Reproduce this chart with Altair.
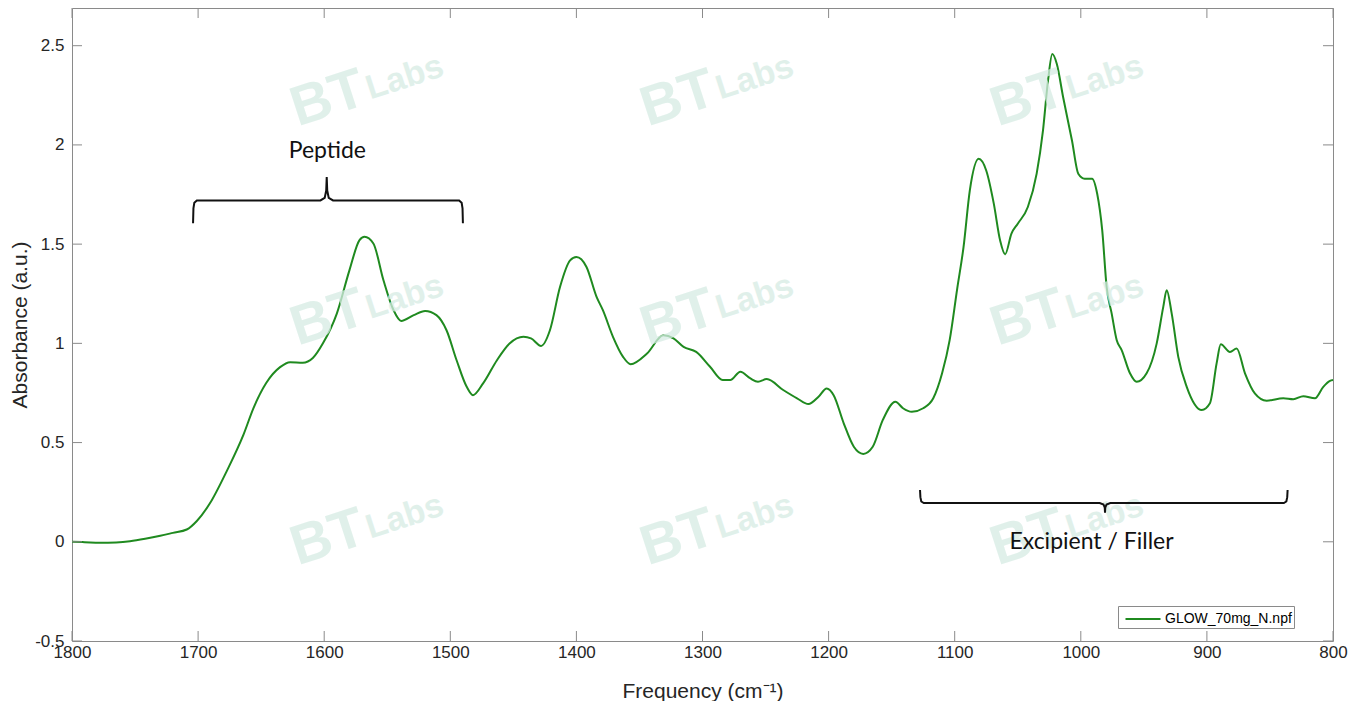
import altair as alt
import pandas as pd

# ---- spectrum ----
freq = [1800, 1790, 1778, 1765, 1754, 1742, 1730, 1720, 1709, 1701, 1691, 1677, 1664, 1656, 1646,
        1635, 1627, 1617, 1609, 1601, 1590, 1580, 1572, 1568, 1561, 1553, 1545, 1539, 1529, 1520,
        1511, 1503, 1495, 1487, 1482, 1474, 1463, 1453, 1442, 1436, 1428, 1421, 1413, 1405, 1400,
        1392, 1384, 1379, 1371, 1363, 1357, 1344, 1331, 1323, 1315, 1305, 1294, 1284, 1278, 1270,
        1262, 1256, 1249, 1236, 1225, 1216, 1208, 1201.5, 1196, 1188, 1180, 1172.5, 1165, 1157,
        1147, 1141, 1134, 1125, 1117, 1110, 1104, 1098, 1093, 1088, 1081, 1075, 1069, 1064, 1060,
        1055, 1050, 1042, 1035, 1030, 1026, 1022.6, 1019, 1014, 1007, 1002, 997, 991, 987, 983,
        979.5, 975.5, 971.5, 967.6, 961, 955.7, 947.8, 939.8, 934.6, 931.9, 927.9, 922.7, 916,
        904, 897.6, 892.3, 889, 881.7, 876.4, 869.8, 862, 852.6, 839.4, 831.5, 823.6, 814.3,
        807.7, 802.4, 800]
absorbance = [0.0, -0.002, -0.005, -0.003, 0.003, 0.015, 0.03, 0.045, 0.062, 0.105, 0.19, 0.36,
              0.54, 0.675, 0.8, 0.88, 0.905, 0.902, 0.926, 1.0, 1.15, 1.368, 1.52, 1.537, 1.503,
              1.318, 1.167, 1.113, 1.142, 1.163, 1.142, 1.066, 0.915, 0.781, 0.739, 0.798, 0.915,
              0.999, 1.033, 1.025, 0.987, 1.066, 1.284, 1.418, 1.435, 1.385, 1.234, 1.167, 1.033,
              0.932, 0.895, 0.949, 1.041, 1.025, 0.982, 0.957, 0.882, 0.815, 0.815, 0.857, 0.823,
              0.806, 0.82, 0.765, 0.723, 0.694, 0.731, 0.773, 0.739, 0.597, 0.479, 0.443, 0.479,
              0.614, 0.706, 0.673, 0.655, 0.673, 0.723, 0.849, 1.016, 1.276, 1.485, 1.771, 1.93,
              1.871, 1.704, 1.519, 1.449, 1.553, 1.603, 1.687, 1.855, 2.072, 2.324, 2.458, 2.408,
              2.24, 2.022, 1.855, 1.83, 1.83, 1.754, 1.569, 1.284, 1.15, 1.016, 0.966, 0.849,
              0.806, 0.849, 1.0, 1.184, 1.268, 1.15, 0.932, 0.781, 0.664, 0.698, 0.899, 0.996,
              0.957, 0.974, 0.849, 0.748, 0.711, 0.723, 0.718, 0.734, 0.723, 0.781, 0.811, 0.815]
series_name = "GLOW_70mg_N.npf"

x_ticks = [1800, 1700, 1600, 1500, 1400, 1300, 1200, 1100, 1000, 900, 800]
y_ticks = [-0.5, 0, 0.5, 1, 1.5, 2, 2.5]
x_domain = [1800, 800]
y_domain = [-0.5, 2.69]

# ---- annotations ----
ann_text = ["Peptide", "Excipient / Filler"]
ann_x = [1597.5, 991.5]
ann_y = [1.97, 0.0]

pep_brace_x = [1704, 1703.7, 1703, 1701, 1603, 1599.6, 1598.4, 1598, 1597.6, 1596.4, 1593, 1493, 1491, 1490.3, 1490]
pep_brace_y = [1.605, 1.68, 1.708, 1.72, 1.72, 1.733, 1.77, 1.838, 1.77, 1.733, 1.72, 1.72, 1.708, 1.68, 1.605]
exc_brace_x = [1127.5, 1127.2, 1126.5, 1124.5, 985, 982, 981, 980.8, 980.6, 979.6, 976.6, 839, 837, 836.3, 836]
exc_brace_y = [0.261, 0.225, 0.203, 0.195, 0.195, 0.188, 0.172, 0.146, 0.172, 0.188, 0.195, 0.195, 0.203, 0.225, 0.261]

# ---- watermark ----
wm_bt_x = [1597, 1319.4, 1041.9]
wm_bt_y = [2.233, 1.127, 0.02]

LINE_GREEN = "#1f8a1f"
AX_COLOR = "#262626"
FRAME = "#8a8a8a"

W, H = 1261, 633

df = pd.DataFrame({"freq": freq, "abs": absorbance, "series": series_name})

xs = alt.Scale(domain=x_domain, nice=False, zero=False)
ys = alt.Scale(domain=y_domain, nice=False, zero=False)

x_axis = alt.Axis(values=x_ticks, title="Frequency (cm⁻¹)", format="d", labelPadding=3, titlePadding=20,
                  labelFlush=False, labelOverlap=False, grid=False, ticks=False, domain=False)
y_axis = alt.Axis(values=y_ticks, title="Absorbance (a.u.)", labelPadding=8, titlePadding=4,
                  labelExpr="datum.value + ''", labelFlush=False, labelOverlap=False,
                  grid=False, ticks=False, domain=False)

xlen = 10 * (x_domain[0] - x_domain[1]) / W
ylen = 10 * (y_domain[1] - y_domain[0]) / H

# main spectrum line (first layer carries the axes)
line = alt.Chart(df).mark_line(strokeWidth=2, interpolate="monotone").encode(
    x=alt.X("freq:Q", scale=xs, axis=x_axis),
    y=alt.Y("abs:Q", scale=ys, axis=y_axis),
    color=alt.Color("series:N", scale=alt.Scale(range=[LINE_GREEN]),
                    legend=alt.Legend(title=None, orient="none", legendX=1046, legendY=598,
                                      symbolType="M-1.75,0H1.75", symbolSize=400, symbolStrokeWidth=2,
                                      symbolOffset=12, labelOffset=11,
                                      labelFontSize=14, labelColor="#000000", labelFont="Liberation Sans",
                                      strokeColor=FRAME, fillColor="white", padding=2,
                                      labelLimit=300)),
)

# watermark layer
wm_rows = []
for bx in wm_bt_x:
    for by in wm_bt_y:
        wm_rows.append({"x": bx, "y": by, "t": "BT", "k": "bt"})
        wm_rows.append({"x": bx - 61, "y": by + 0.105, "t": "Labs", "k": "labs"})
wm = pd.DataFrame(wm_rows)
wm_bt = alt.Chart(wm[wm.k == "bt"]).mark_text(
    font="Liberation Sans", fontWeight="bold", fontSize=56, angle=342,
    color="#d6ece4", opacity=0.75
).encode(x=alt.X("x:Q", scale=xs), y=alt.Y("y:Q", scale=ys), text="t:N")
wm_labs = alt.Chart(wm[wm.k == "labs"]).mark_text(
    font="Liberation Sans", fontWeight="bold", fontSize=34, angle=342,
    color="#d6ece4", opacity=0.75
).encode(x=alt.X("x:Q", scale=xs), y=alt.Y("y:Q", scale=ys), text="t:N")

# inward ticks
tb = pd.DataFrame({"v": x_ticks})
ty = pd.DataFrame({"v": y_ticks})
tick_bottom = alt.Chart(tb).mark_rule(color=FRAME, strokeWidth=1).encode(
    x=alt.X("v:Q", scale=xs), y=alt.datum(y_domain[0]), y2=alt.datum(y_domain[0] + ylen))
tick_top = alt.Chart(tb).mark_rule(color=FRAME, strokeWidth=1).encode(
    x=alt.X("v:Q", scale=xs), y=alt.datum(y_domain[1]), y2=alt.datum(y_domain[1] - ylen))
tick_left = alt.Chart(ty).mark_rule(color=FRAME, strokeWidth=1).encode(
    y=alt.Y("v:Q", scale=ys), x=alt.datum(x_domain[0]), x2=alt.datum(x_domain[0] - xlen))
tick_right = alt.Chart(ty).mark_rule(color=FRAME, strokeWidth=1).encode(
    y=alt.Y("v:Q", scale=ys), x=alt.datum(x_domain[1]), x2=alt.datum(x_domain[1] + xlen))

bdf = pd.DataFrame({
    "x": pep_brace_x + exc_brace_x,
    "y": pep_brace_y + exc_brace_y,
    "g": ["p"] * len(pep_brace_x) + ["e"] * len(exc_brace_x),
    "o": list(range(len(pep_brace_x))) + list(range(len(exc_brace_x))),
})
braces = alt.Chart(bdf).mark_line(color="#111111", strokeWidth=2, interpolate="linear").encode(
    x=alt.X("x:Q", scale=xs), y=alt.Y("y:Q", scale=ys), detail="g:N", order="o:Q")

adf = pd.DataFrame({"t": ann_text, "x": ann_x, "y": ann_y})
ann = alt.Chart(adf).mark_text(font="Lato", fontSize=23, color="#111111").encode(
    x=alt.X("x:Q", scale=xs), y=alt.Y("y:Q", scale=ys), text="t:N")

chart = alt.layer(line, wm_bt, wm_labs, tick_bottom, tick_top, tick_left, tick_right, braces, ann).properties(
    width=W, height=H,
    background="white",
    autosize=alt.AutoSizeParams(type="none"),
    padding={"left": 64, "top": 0, "right": 20, "bottom": 60},
).configure_view(stroke=FRAME, strokeWidth=1).configure_axis(
    domain=False, grid=False, ticks=False,
    labelFont="Liberation Sans", labelFontSize=17, labelColor=AX_COLOR,
    titleFont="Liberation Sans", titleFontSize=21, titleColor=AX_COLOR, titleFontWeight="normal",
)

chart.save("out.html", embed_options={"renderer": "svg", "actions": False})
